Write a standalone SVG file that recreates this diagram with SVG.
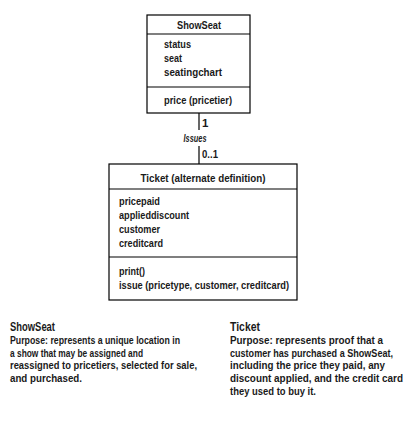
<svg xmlns="http://www.w3.org/2000/svg" width="420" height="429" viewBox="0 0 420 429">
<style>
text{font-family:"Liberation Sans",Arial,sans-serif;font-size:11.5px;font-weight:bold;fill:#1a1a1a;}
.box{fill:#fff;stroke:#000;stroke-width:1.2;}
.ln{stroke:#000;stroke-width:1.2;fill:none;}
.mid{text-anchor:middle;}
.it{font-style:italic;}
.ttl{font-size:12.5px;}
</style>
<rect width="420" height="429" fill="#fff"/>
<g id="connectors">
<line class="ln" x1="199" y1="113" x2="199" y2="130"/>
<line class="ln" x1="199" y1="146" x2="199" y2="164"/>
<text x="202" y="127">1</text>
<text class="it mid" x="195" y="142" textLength="23" lengthAdjust="spacingAndGlyphs">Issues</text>
<text x="202" y="158" textLength="16" lengthAdjust="spacingAndGlyphs">0..1</text>
</g>
<g id="ShowSeat">
<rect class="box" x="147" y="15" width="103" height="98"/>
<line class="ln" x1="147" y1="34" x2="250" y2="34"/>
<line class="ln" x1="147" y1="87" x2="250" y2="87"/>
<text class="mid" x="199" y="29" textLength="44" lengthAdjust="spacingAndGlyphs">ShowSeat</text>
<text x="164" y="48" textLength="27" lengthAdjust="spacingAndGlyphs">status</text>
<text x="164" y="62" textLength="18" lengthAdjust="spacingAndGlyphs">seat</text>
<text x="164" y="76" textLength="58" lengthAdjust="spacingAndGlyphs">seatingchart</text>
<text x="164" y="104" textLength="68" lengthAdjust="spacingAndGlyphs">price (pricetier)</text>
</g>
<g id="Ticket">
<rect class="box" x="109" y="164" width="188" height="136"/>
<line class="ln" x1="109" y1="189" x2="297" y2="189"/>
<line class="ln" x1="109" y1="257" x2="297" y2="257"/>
<text class="mid" x="203" y="182" textLength="125" lengthAdjust="spacingAndGlyphs">Ticket (alternate definition)</text>
<text x="119" y="205" textLength="41" lengthAdjust="spacingAndGlyphs">pricepaid</text>
<text x="119" y="219" textLength="70" lengthAdjust="spacingAndGlyphs">applieddiscount</text>
<text x="119" y="233" textLength="41" lengthAdjust="spacingAndGlyphs">customer</text>
<text x="119" y="247" textLength="44" lengthAdjust="spacingAndGlyphs">creditcard</text>
<text x="119" y="275" textLength="26" lengthAdjust="spacingAndGlyphs">print()</text>
<text x="119" y="289" textLength="170" lengthAdjust="spacingAndGlyphs">issue (pricetype, customer, creditcard)</text>
</g>
<g id="notes">
<text class="ttl" x="10" y="331" textLength="45" lengthAdjust="spacingAndGlyphs">ShowSeat</text>
<text x="10" y="344" textLength="170" lengthAdjust="spacingAndGlyphs">Purpose: represents a unique location in</text>
<text x="10" y="357" textLength="133" lengthAdjust="spacingAndGlyphs">a show that may be assigned and</text>
<text x="10" y="369" textLength="187" lengthAdjust="spacingAndGlyphs">reassigned to pricetiers, selected for sale,</text>
<text x="10" y="382" textLength="72" lengthAdjust="spacingAndGlyphs">and purchased.</text>
<text class="ttl" x="230" y="331" textLength="30" lengthAdjust="spacingAndGlyphs">Ticket</text>
<text x="230" y="344" textLength="153" lengthAdjust="spacingAndGlyphs">Purpose: represents proof that a</text>
<text x="230" y="357" textLength="163" lengthAdjust="spacingAndGlyphs">customer has purchased a ShowSeat,</text>
<text x="230" y="369" textLength="155" lengthAdjust="spacingAndGlyphs">including the price they paid, any</text>
<text x="230" y="382" textLength="173" lengthAdjust="spacingAndGlyphs">discount applied, and the credit card</text>
<text x="230" y="395" textLength="86" lengthAdjust="spacingAndGlyphs">they used to buy it.</text>
</g>
</svg>
